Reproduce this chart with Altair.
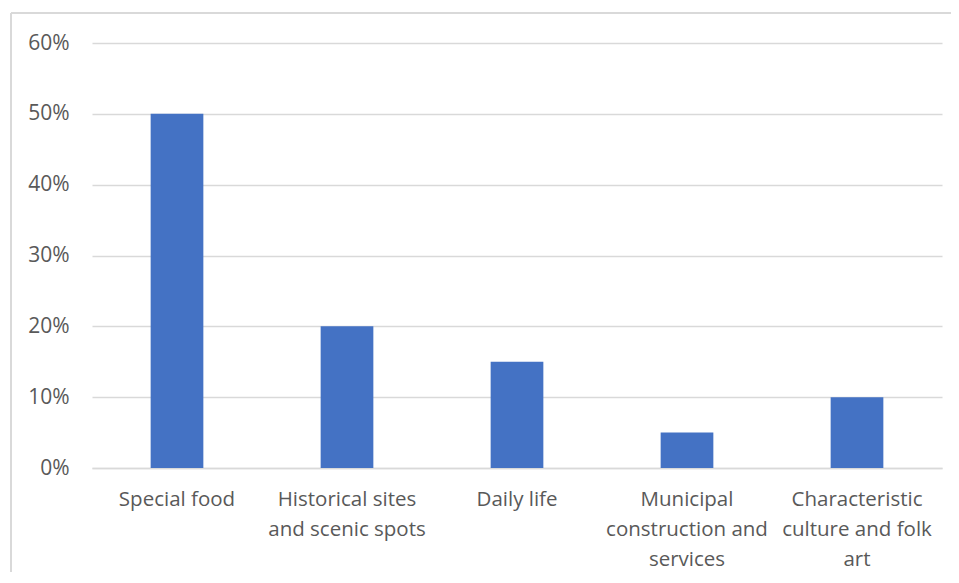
import altair as alt
import pandas as pd

categories = [
    "Special food",
    "Historical sites and scenic spots",
    "Daily life",
    "Municipal construction and services",
    "Characteristic culture and folk art",
]
label_lines = [
    ["Special food"],
    ["Historical sites", "and scenic spots"],
    ["Daily life"],
    ["Municipal", "construction and", "services"],
    ["Characteristic", "culture and folk", "art"],
]
values = [0.50, 0.20, 0.15, 0.05, 0.10]
y_ticks = [0, 0.1, 0.2, 0.3, 0.4, 0.5, 0.6]

df = pd.DataFrame({"category": categories, "value": values})

# build labelExpr mapping for multi-line labels
mapping = "{" + ", ".join(
    "'" + c + "': [" + ", ".join("'" + l + "'" for l in lines) + "]"
    for c, lines in zip(categories, label_lines)
) + "}"
label_expr = f"{mapping}[datum.value]"

FONT = "Open Sans"
TEXT = "#595959"
GRID = "#D9D9D9"

bars = alt.Chart(df).mark_bar(color="#4472C4").encode(
    x=alt.X(
        "category:N",
        sort=categories,
        title=None,
        scale=alt.Scale(paddingInner=0.69, paddingOuter=0.345),
        axis=alt.Axis(
            labelAngle=0,
            labelExpr=label_expr,
            labelFont=FONT,
            labelFontSize=20.5,
            labelColor=TEXT,
            labelLineHeight=30,
            labelPadding=21,
            labelBaseline="top",
            ticks=False,
            domainColor=GRID,
            domainWidth=1.5,
            labelLimit=300,
        ),
    ),
    y=alt.Y(
        "value:Q",
        title=None,
        scale=alt.Scale(domain=[0, 0.6], nice=False),
        axis=alt.Axis(
            values=y_ticks,
            format=".0%",
            labelFont=FONT,
            labelFontSize=21,
            labelColor=TEXT,
            labelPadding=23,
            ticks=False,
            domain=False,
            gridColor=GRID,
            gridWidth=1.5,
        ),
    ),
)

frame_df = pd.DataFrame({"k": [0]})
top_line = alt.Chart(frame_df).mark_rule(color=GRID, strokeWidth=2).encode(
    x=alt.value(-81), x2=alt.value(870), y=alt.value(-30)
)
left_line = alt.Chart(frame_df).mark_rule(color=GRID, strokeWidth=2).encode(
    x=alt.value(-81), y=alt.value(-30), y2=alt.value(540)
)

chart = alt.layer(bars, top_line, left_line).properties(
    width=850,
    height=425,
    autosize=alt.AutoSizeParams(type="none"),
    padding={"left": 84, "top": 35, "right": 9, "bottom": 104},
    background="white",
).configure_view(stroke=None)

chart.save("out.html", embed_options={"renderer": "svg", "actions": False})
